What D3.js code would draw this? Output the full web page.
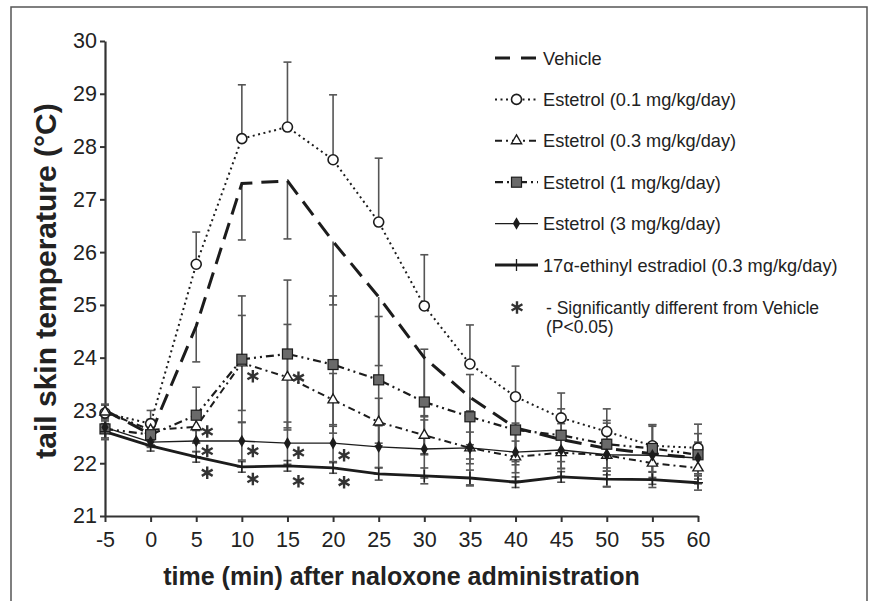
<!DOCTYPE html>
<html>
<head>
    <meta charset="utf-8">
    <script src="https://cdn.jsdelivr.net/npm/d3@7"></script>
    <style>
        body { margin: 0; background: #fff; }
        svg { font-family: "Liberation Sans", Arial, sans-serif; }
    </style>
</head>
<body>
<div id="chart"></div>

<script>
    // values (mean, error bar length)
    var times = [-5, 0, 5, 10, 15, 20, 25, 30, 35, 40, 45, 50, 55, 60];

    var vehicle    = [23.0, 22.55, 24.6, 27.3, 27.35, 26.2, 25.15, 24.0, 23.25, 22.67, 22.45, 22.28, 22.18, 22.1];
    var vehicleErr = [0.2, 0.2, 0.68, 1.07, 1.1, 1.2, 1.3, 1.1, 0.9, 0.7, 0.55, 0.5, 0.45, 0.4];

    var e4_01    = [22.95, 22.75, 25.77, 28.15, 28.37, 27.75, 26.57, 24.98, 23.88, 23.26, 22.86, 22.6, 22.33, 22.29];
    var e4_01Err = [0.15, 0.25, 0.61, 1.02, 1.23, 1.23, 1.21, 0.97, 0.74, 0.58, 0.47, 0.43, 0.4, 0.45];

    var e4_03    = [22.97, 22.63, 22.69, 23.9, 23.63, 23.2, 22.78, 22.53, 22.29, 22.12, 22.2, 22.15, 22.0, 21.91];
    var e4_03Err = [0.15, 0.2, 0.3, 0.9, 1.0, 0.5, 0.45, 0.35, 0.3, 0.3, 0.3, 0.3, 0.3, 0.3];

    var e4_1    = [22.65, 22.54, 22.91, 23.97, 24.07, 23.87, 23.58, 23.16, 22.88, 22.63, 22.53, 22.36, 22.28, 22.16];
    var e4_1Err = [0.2, 0.2, 0.53, 1.2, 1.4, 1.3, 1.2, 1.0, 0.8, 0.6, 0.5, 0.45, 0.45, 0.4];

    var e4_3    = [22.68, 22.4, 22.42, 22.42, 22.38, 22.38, 22.31, 22.27, 22.29, 22.21, 22.25, 22.16, 22.15, 22.1];
    var e4_3Err = [0.2, 0.1, 0.2, 0.36, 0.4, 0.35, 0.4, 0.55, 0.7, 0.55, 0.5, 0.6, 0.55, 0.3];

    var ee    = [22.6, 22.33, 22.12, 21.93, 21.95, 21.91, 21.8, 21.76, 21.72, 21.64, 21.74, 21.7, 21.69, 21.63];
    var eeErr = [0.15, 0.1, 0.1, 0.1, 0.1, 0.1, 0.12, 0.15, 0.15, 0.1, 0.1, 0.15, 0.15, 0.14];

    // which side of the mean the error bar is drawn on
    var errSide = ["down", "up", "both", "both", "both", "both"];

    // asterisks (significantly different from vehicle)
    var sigT = [5, 5, 5, 10, 10, 10, 15, 15, 15, 20, 20];
    var sigV = [22.6, 22.23, 21.82, 23.65, 22.23, 21.7, 23.62, 22.2, 21.66, 22.15, 21.64];

    var legendLabels = [
        "Vehicle",
        "Estetrol (0.1 mg/kg/day)",
        "Estetrol (0.3 mg/kg/day)",
        "Estetrol (1 mg/kg/day)",
        "Estetrol (3 mg/kg/day)",
        "17\u03b1-ethinyl estradiol (0.3 mg/kg/day)"
    ];
    var sigNote = ["- Significantly different from Vehicle", "(P<0.05)"];

    var yTicks = [21, 22, 23, 24, 25, 26, 27, 28, 29, 30];

    // line / marker styles per series
    var styles = [
        { dash: "17,9", width: 3, marker: "none" },
        { dash: "2,3.5", width: 2, marker: "circle" },
        { dash: "7,4,2,4", width: 2, marker: "triangle" },
        { dash: "8,4,2,4,2,4", width: 2.2, marker: "square" },
        { dash: null, width: 1.4, marker: "diamond" },
        { dash: null, width: 2.8, marker: "plus" }
    ];

    var seriesVals = [vehicle, e4_01, e4_03, e4_1, e4_3, ee];
    var seriesErrs = [vehicleErr, e4_01Err, e4_03Err, e4_1Err, e4_3Err, eeErr];

    var W = 869, H = 601;

    var svg = d3.select("#chart").append("svg")
        .attr("width", W)
        .attr("height", H);

    // outer frame
    svg.append("rect")
        .attr("x", 11).attr("y", 7)
        .attr("width", 856).attr("height", 640)
        .attr("fill", "none")
        .attr("stroke", "#555")
        .attr("stroke-width", 1.5);

    var x = d3.scaleLinear().domain([-5, 60]).range([105, 698]);
    var y = d3.scaleLinear().domain([21, 30]).range([516, 41]);

    var ink = "#1c1c1c";
    var plain = function(d) { return String(d); };   // keep "-5" with a hyphen

    // axes
    var xAxis = svg.append("g")
        .attr("transform", "translate(0," + y(21) + ")")
        .call(d3.axisBottom(x).tickValues(times).tickFormat(plain)
            .tickSizeInner(6).tickSizeOuter(0).tickPadding(10));
    var yAxis = svg.append("g")
        .attr("transform", "translate(" + x(-5) + ",0)")
        .call(d3.axisLeft(y).tickValues(yTicks).tickFormat(plain)
            .tickSizeInner(5).tickSizeOuter(0).tickPadding(3));

    [xAxis, yAxis].forEach(function(g) {
        g.select(".domain").attr("stroke", "#333").attr("stroke-width", 2.2);
        g.selectAll(".tick line").attr("stroke", "#333").attr("stroke-width", 2);
        g.selectAll(".tick text")
            .attr("fill", "#222")
            .style("font-size", "21.5px")
            .style("font-family", "Liberation Sans, Arial, sans-serif");
    });

    // axis titles
    svg.append("text")
        .attr("x", (x(-5) + x(60)) / 2)
        .attr("y", 585)
        .attr("text-anchor", "middle")
        .style("font-size", "25px")
        .style("font-weight", "bold")
        .attr("fill", "#222")
        .text("time (min) after naloxone administration");

    svg.append("text")
        .attr("transform", "translate(56," + 281 + ") rotate(-90)")
        .attr("text-anchor", "middle")
        .style("font-size", "30px")
        .style("font-weight", "bold")
        .attr("fill", "#222")
        .text("tail skin temperature (\u00b0C)");

    // error bars
    var capW = 4;
    seriesVals.forEach(function(vals, si) {
        var errs = seriesErrs[si];
        var side = errSide[si];
        var g = svg.append("g").attr("stroke", "#555").attr("stroke-width", 1.6);
        times.forEach(function(t, i) {
            var lo = side === "up" ? vals[i] : vals[i] - errs[i];
            var hi = side === "down" ? vals[i] : vals[i] + errs[i];
            g.append("line")
                .attr("x1", x(t)).attr("x2", x(t))
                .attr("y1", y(lo)).attr("y2", y(hi));
            if (side !== "up")
                g.append("line")
                    .attr("x1", x(t) - capW).attr("x2", x(t) + capW)
                    .attr("y1", y(lo)).attr("y2", y(lo));
            if (side !== "down")
                g.append("line")
                    .attr("x1", x(t) - capW).attr("x2", x(t) + capW)
                    .attr("y1", y(hi)).attr("y2", y(hi));
        });
    });

    // lines
    var line = d3.line()
        .x(function(d, i) { return x(times[i]); })
        .y(function(d) { return y(d); });

    seriesVals.forEach(function(vals, si) {
        var st = styles[si];
        svg.append("path")
            .datum(vals)
            .attr("d", line)
            .attr("fill", "none")
            .attr("stroke", ink)
            .attr("stroke-width", st.width)
            .attr("stroke-dasharray", st.dash);
    });

    function drawMarker(g, kind, cx, cy) {
        if (kind === "circle") {
            g.append("circle").attr("cx", cx).attr("cy", cy).attr("r", 5)
                .attr("fill", "#fff").attr("stroke", ink).attr("stroke-width", 1.6);
        } else if (kind === "triangle") {
            g.append("path").attr("d", d3.symbol().type(d3.symbolTriangle).size(45)())
                .attr("transform", "translate(" + cx + "," + cy + ")")
                .attr("fill", "#fff").attr("stroke", ink).attr("stroke-width", 1.4);
        } else if (kind === "square") {
            g.append("rect").attr("x", cx - 5).attr("y", cy - 5).attr("width", 10).attr("height", 10)
                .attr("fill", "#6a6a6a").attr("stroke", ink).attr("stroke-width", 1.2);
        } else if (kind === "diamond") {
            g.append("path").attr("d", d3.symbol().type(d3.symbolDiamond).size(45)())
                .attr("transform", "translate(" + cx + "," + cy + ")")
                .attr("fill", ink);
        } else if (kind === "plus") {
            g.append("path").attr("d", "M0,-6V6M-5,0H5")
                .attr("transform", "translate(" + cx + "," + cy + ")")
                .attr("fill", "none").attr("stroke", ink).attr("stroke-width", 1.3);
        }
    }

    // markers
    seriesVals.forEach(function(vals, si) {
        var kind = styles[si].marker;
        if (kind === "none") return;
        var g = svg.append("g");
        times.forEach(function(t, i) { drawMarker(g, kind, x(t), y(vals[i])); });
    });

    // asterisks
    var star = d3.symbol().type(d3.symbolAsterisk).size(110);
    sigT.forEach(function(t, i) {
        svg.append("path")
            .attr("d", star())
            .attr("transform", "translate(" + (x(t) + 11) + "," + y(sigV[i]) + ")")
            .attr("fill", "none")
            .attr("stroke", "#333")
            .attr("stroke-width", 2.4);
    });

    // legend
    var lgX0 = 495, lgX1 = 538, lgTextX = 543, lgY0 = 58, lgStep = 41.4;
    legendLabels.forEach(function(label, i) {
        var st = styles[i];
        var ly = lgY0 + i * lgStep;
        var g = svg.append("g");
        g.append("line")
            .attr("x1", lgX0).attr("x2", lgX1)
            .attr("y1", ly).attr("y2", ly)
            .attr("stroke", ink)
            .attr("stroke-width", st.width)
            .attr("stroke-dasharray", i === 0 ? "15,11" : st.dash);
        if (st.marker !== "none") drawMarker(g, st.marker, (lgX0 + lgX1) / 2, ly);
        g.append("text")
            .attr("x", lgTextX)
            .attr("y", ly)
            .attr("dy", "0.36em")
            .attr("fill", "#222")
            .style("font-size", "18.2px")
            .text(label);
    });

    var noteY = lgY0 + 6 * lgStep + 1;
    svg.append("path")
        .attr("d", star())
        .attr("transform", "translate(517," + noteY + ")")
        .attr("fill", "none")
        .attr("stroke", "#333")
        .attr("stroke-width", 2.4);
    sigNote.forEach(function(s, i) {
        svg.append("text")
            .attr("x", 546)
            .attr("y", noteY + i * 19)
            .attr("dy", "0.36em")
            .attr("fill", "#222")
            .style("font-size", "17.5px")
            .text(s);
    });
</script>
</body>
</html>
